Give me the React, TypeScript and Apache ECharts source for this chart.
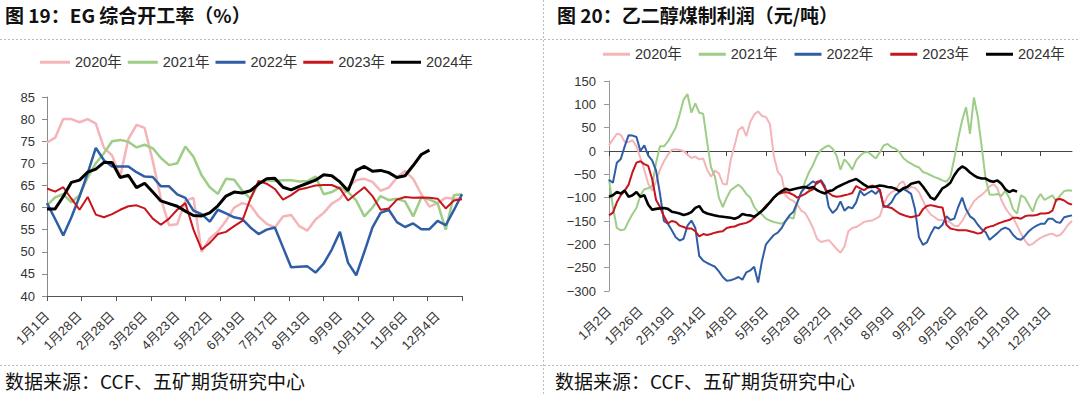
import React, { useEffect, useRef } from 'react';
import * as echarts from 'echarts';

const years = ['2020年', '2021年', '2022年', '2023年', '2024年'];

const leftTickLabels = ['1月1日', '1月28日', '2月28日', '3月26日', '4月23日', '5月22日', '6月19日', '7月17日', '8月13日', '9月9日', '10月11日', '11月6日', '12月4日'];
const rightTickLabels = ['1月2日', '1月26日', '2月19日', '3月14日', '4月8日', '5月5日', '5月29日', '6月22日', '7月16日', '8月9日', '9月2日', '9月26日', '10月26日', '11月19日', '12月13日'];

// 图19 EG综合开工率 (%), weekly
const rate2020 = [74.7, 75.8, 80.0, 80.0, 79.3, 80.0, 79.0, 73.5, 71.8, 67.0, 75.5, 78.7, 78.0, 70.5, 62.0, 56.0, 56.2, 61.5, 62.2, 50.0, 53.0, 54.6, 57.0, 60.0, 61.0, 60.5, 58.0, 56.3, 55.5, 58.0, 58.3, 55.8, 54.8, 57.3, 58.8, 60.9, 62.0, 64.5, 66.2, 66.5, 65.8, 63.8, 64.5, 66.8, 68.3, 66.5, 63.0, 60.2, 61.0, 62.2, 62.0, 62.0];
const rate2021 = [60.5, 62.3, 63.0, 61.2, 62.8, 66.8, 70.0, 72.3, 75.0, 75.3, 74.9, 73.6, 74.2, 73.4, 71.2, 69.6, 70.0, 73.8, 71.5, 67.3, 64.6, 63.1, 66.5, 66.3, 63.8, 62.0, 65.5, 66.2, 66.0, 66.2, 66.2, 65.9, 66.0, 67.0, 63.0, 63.5, 64.6, 63.5, 61.6, 58.0, 60.0, 62.6, 61.7, 62.0, 61.4, 58.0, 62.3, 61.8, 61.0, 55.0, 62.8, 63.0];
const rate2022 = [61.0, 57.4, 53.7, 57.8, 62.5, 67.8, 73.5, 70.7, 69.3, 69.3, 69.3, 68.0, 67.0, 66.9, 64.8, 64.8, 63.0, 62.2, 59.3, 58.5, 56.8, 59.5, 58.7, 57.8, 57.4, 55.5, 54.0, 55.0, 55.5, 51.0, 46.5, 46.6, 46.7, 45.3, 47.3, 50.5, 54.5, 47.5, 44.7, 50.0, 55.5, 58.8, 59.5, 56.7, 55.6, 56.4, 55.1, 55.1, 57.0, 56.0, 59.4, 63.0];
const rate2023 = [64.3, 63.6, 64.6, 62.0, 59.5, 62.4, 58.4, 57.8, 58.5, 59.5, 60.3, 60.5, 59.8, 57.5, 56.1, 57.5, 59.5, 61.0, 55.0, 50.5, 52.0, 54.0, 54.5, 55.8, 57.0, 62.0, 66.0, 65.4, 64.2, 61.8, 62.8, 64.1, 64.5, 65.0, 65.1, 65.1, 64.3, 61.6, 63.1, 64.6, 62.6, 59.5, 59.8, 61.8, 62.4, 62.2, 62.3, 62.2, 62.0, 59.8, 61.6, 61.9];
const rate2024 = [59.7, 59.7, 62.5, 65.7, 66.2, 68.0, 68.7, 70.2, 70.2, 66.8, 67.3, 64.5, 65.5, 63.5, 61.5, 60.9, 60.3, 59.2, 58.2, 58.1, 58.8, 60.4, 62.6, 63.5, 63.3, 63.8, 65.3, 66.5, 66.6, 64.6, 64.0, 64.8, 65.5, 66.2, 67.4, 67.2, 65.8, 63.8, 68.4, 69.3, 68.2, 68.4, 67.9, 66.8, 67.2, 69.5, 72.0, 73.0];

// 图20 乙二醇煤制利润 (元/吨)
const profit2020 = [12, 25, 37, 35, 20, 19, 23, 10, -15, -40, -70, -85, -65, -40, -22, -8, 2, 4, 2, 0, -8, -15, -12, -18, -16, -40, -55, -42, -48, -70, -72, -20, 12, 45, 52, 32, 62, 78, 85, 75, 73, 58, -10, -44, -55, -95, -103, -107, -115, -128, -133, -148, -165, -188, -195, -193, -191, -200, -210, -218, -205, -172, -165, -163, -158, -152, -150, -149, -145, -140, -115, -97, -88, -84, -70, -65, -82, -77, -79, -88, -106, -125, -136, -142, -148, -148, -150, -153, -160, -161, -150, -135, -122, -108, -100, -94, -86, -76, -71, -80, -105, -122, -134, -143, -160, -177, -192, -202, -199, -192, -186, -182, -179, -177, -182, -180, -170, -158, -150];
const profit2021 = [-60, -120, -165, -170, -168, -150, -135, -122, -95, -82, -80, -75, -25, 10, 10, 20, 35, 50, 78, 110, 122, 82, 102, 82, 80, 20, -35, -55, -100, -120, -100, -84, -78, -72, -80, -92, -100, -120, -131, -136, -145, -149, -152, -154, -156, -150, -142, -145, -110, -90, -65, -45, -30, -10, 2, 8, 12, 5, -10, -40, -18, -27, -40, -20, -10, -3, -2, -9, -16, -3, 12, 15, 8, 5, -2, -15, -22, -27, -32, -35, -45, -48, -52, -56, -59, -63, -66, -55, -16, 27, 66, 94, 37, 115, 73, 8, -60, -93, -94, -92, -96, -85, -100, -125, -134, -95, -100, -115, -130, -105, -92, -105, -100, -95, -108, -95, -86, -84, -85];
const profit2022 = [-62, -68, -25, -17, 10, 34, 33, 30, 0, 12, -10, -20, -42, -92, -150, -156, -170, -185, -192, -188, -160, -149, -165, -225, -235, -240, -244, -248, -258, -270, -278, -277, -274, -270, -276, -260, -256, -248, -282, -235, -200, -190, -180, -175, -165, -150, -138, -130, -110, -88, -78, -72, -65, -70, -62, -75, -120, -133, -125, -108, -128, -120, -123, -110, -85, -95, -90, -85, -92, -82, -120, -118, -110, -95, -88, -81, -86, -92, -125, -185, -201, -196, -178, -163, -166, -158, -140, -148, -145, -120, -100, -125, -140, -146, -158, -168, -174, -190, -183, -176, -168, -164, -168, -180, -188, -190, -182, -172, -165, -160, -156, -156, -145, -145, -152, -154, -142, -140, -138];
const profit2023 = [-138, -132, -110, -95, -85, -72, -45, -25, -22, -28, -32, -60, -105, -120, -140, -155, -150, -152, -160, -163, -166, -166, -172, -183, -178, -180, -178, -175, -173, -172, -165, -163, -162, -158, -156, -154, -150, -143, -135, -128, -117, -110, -100, -92, -90, -88, -90, -94, -100, -96, -92, -86, -82, -66, -65, -80, -90, -96, -98, -97, -95, -93, -90, -75, -80, -84, -78, -74, -77, -83, -118, -120, -122, -128, -134, -137, -140, -142, -140, -138, -125, -118, -116, -118, -120, -121, -158, -166, -168, -170, -170, -170, -172, -174, -177, -175, -165, -162, -160, -156, -153, -150, -148, -143, -143, -145, -140, -138, -138, -137, -134, -134, -133, -128, -104, -103, -106, -112, -115];
const profit2024 = [-98, -95, -88, -91, -85, -98, -95, -88, -98, -95, -115, -126, -124, -123, -122, -124, -130, -132, -134, -137, -135, -131, -122, -118, -130, -134, -136, -138, -140, -141, -142, -143, -145, -142, -135, -137, -138, -141, -135, -128, -120, -110, -100, -92, -86, -81, -84, -82, -80, -78, -77, -80, -77, -84, -88, -91, -86, -84, -78, -74, -70, -66, -63, -60, -66, -72, -77, -77, -76, -74, -75, -77, -78, -81, -86, -80, -77, -70, -68, -66, -76, -88, -100, -104, -92, -80, -75, -68, -52, -40, -33, -38, -46, -52, -57, -59, -59, -64, -66, -63, -70, -82, -88, -84, -87];

const leftData = [rate2020, rate2021, rate2022, rate2023, rate2024];
const rightData = [profit2020, profit2021, profit2022, profit2023, profit2024];

const LEFT_LABEL_STEP = 4;
const RIGHT_LABEL_STEP = 8;
const leftCategories = rate2020.map((_, i) => (i % LEFT_LABEL_STEP === 0 ? leftTickLabels[i / LEFT_LABEL_STEP] || '' : ''));
const rightCategories = profit2020.map((_, i) => (i % RIGHT_LABEL_STEP === 0 ? rightTickLabels[i / RIGHT_LABEL_STEP] || '' : ''));

const colors = ['#F4B4B8', '#9DCD86', '#2F5DA6', '#C8141C', '#000000'];
const leftWidths = [2.5, 2.5, 2.5, 2, 3];
const rightWidths = [2, 2, 2, 2, 2.6];

const NUM_FONT = '"Liberation Sans", "Noto Sans CJK SC", sans-serif';
const CJK_FONT = '"Noto Sans CJK SC", sans-serif';

export default function App() {
  const ref = useRef<HTMLDivElement>(null);

  useEffect(() => {
    if (!ref.current) return;
    const chart = echarts.init(ref.current, undefined, { renderer: 'svg' });

    const axisLabelStyle = { fontSize: 13, color: '#333', fontFamily: NUM_FONT };
    const minus = (v: number) => (v < 0 ? '\u2212' + Math.abs(v) : String(v));

    const series: any[] = [];
    leftData.forEach((d, i) => {
      series.push({
        type: 'line', name: years[i], xAxisIndex: 0, yAxisIndex: 0, data: d,
        symbol: 'none', showSymbol: false, z: 2 + i,
        lineStyle: { color: colors[i], width: leftWidths[i] }, itemStyle: { color: colors[i] },
      });
    });
    rightData.forEach((d, i) => {
      series.push({
        type: 'line', name: years[i], xAxisIndex: 2, yAxisIndex: 1, data: d,
        symbol: 'none', showSymbol: false, z: 2 + i,
        lineStyle: { color: colors[i], width: rightWidths[i] }, itemStyle: { color: colors[i] },
      });
    });

    const legendCommon = {
      data: years, icon: 'rect', itemHeight: 3, orient: 'horizontal',
      textStyle: { fontSize: 14.5, color: '#333', fontFamily: NUM_FONT },
    };

    chart.setOption({
      animation: false,
      backgroundColor: '#ffffff',
      grid: [
        { left: 47, top: 97, width: 415, height: 199 },
        { left: 609, top: 81, width: 463, height: 210 },
      ],
      legend: [
        { ...legendCommon, left: 35, top: 50, itemWidth: 30, itemGap: 6 },
        { ...legendCommon, left: 598, top: 42, itemWidth: 27, itemGap: 17 },
      ],
      xAxis: [
        {
          type: 'category', gridIndex: 0, position: 'bottom', data: leftCategories, boundaryGap: false,
          axisLine: { show: false, onZero: false }, axisTick: { show: false },
          axisLabel: { ...axisLabelStyle, interval: LEFT_LABEL_STEP - 1, rotate: 45, margin: 18 },
          splitLine: { show: false },
        },
        {
          type: 'value', gridIndex: 0, position: 'bottom', min: 0, max: 12, interval: 1,
          axisLine: { show: true, onZero: false, lineStyle: { color: '#555', width: 1 } },
          axisTick: { show: true, length: 5, lineStyle: { color: '#555' } },
          axisLabel: { show: false }, splitLine: { show: false },
        },
        {
          type: 'category', gridIndex: 1, position: 'bottom', data: rightCategories, boundaryGap: false,
          axisLine: { show: false, onZero: false }, axisTick: { show: false },
          axisLabel: { ...axisLabelStyle, interval: RIGHT_LABEL_STEP - 1, rotate: 45, margin: 18 },
          splitLine: { show: false },
        },
        {
          type: 'category', gridIndex: 1, position: 'bottom', data: rightCategories, boundaryGap: false,
          axisLine: { show: true, onZero: true, lineStyle: { color: '#444', width: 1 } },
          axisTick: { show: true, interval: 9, length: 5, lineStyle: { color: '#444' } },
          axisLabel: { show: false }, splitLine: { show: false },
        },
      ],
      yAxis: [
        {
          type: 'value', gridIndex: 0, min: 40, max: 85, interval: 5,
          axisLine: { show: true, onZero: false, lineStyle: { color: '#8a8a8a' } },
          axisTick: { show: true, length: 5, lineStyle: { color: '#8a8a8a' } },
          axisLabel: { ...axisLabelStyle, margin: 12 },
          splitLine: { show: false },
        },
        {
          type: 'value', gridIndex: 1, min: -300, max: 150, interval: 50,
          axisLine: { show: true, onZero: false, lineStyle: { color: '#999' } },
          axisTick: { show: true, length: 5, lineStyle: { color: '#999' } },
          axisLabel: { ...axisLabelStyle, margin: 13, formatter: minus },
          splitLine: { show: false },
        },
      ],
      graphic: [
        { type: 'line', silent: true, shape: { x1: 0, y1: 39.5, x2: 1080, y2: 39.5 }, style: { stroke: '#bdbdbd', lineWidth: 1, lineDash: [2, 2] } },
        { type: 'line', silent: true, shape: { x1: 0, y1: 365.5, x2: 1080, y2: 365.5 }, style: { stroke: '#bdbdbd', lineWidth: 1, lineDash: [2, 2] } },
        { type: 'line', silent: true, shape: { x1: 543.5, y1: 0, x2: 543.5, y2: 394 }, style: { stroke: '#bdbdbd', lineWidth: 1, lineDash: [2, 2] } },
        { type: 'text', x: 5, y: 14, style: { text: '图 19：EG 综合开工率（%）', fontSize: 19, fontWeight: 'bold', fontFamily: CJK_FONT, fill: '#111', verticalAlign: 'middle' } },
        { type: 'text', x: 557, y: 14, style: { text: '图 20：乙二醇煤制利润（元/吨）', fontSize: 19, fontWeight: 'bold', fontFamily: CJK_FONT, fill: '#111', verticalAlign: 'middle' } },
        { type: 'text', x: 5, y: 380, style: { text: '数据来源：CCF、五矿期货研究中心', fontSize: 19, fontFamily: CJK_FONT, fill: '#111', verticalAlign: 'middle' } },
        { type: 'text', x: 555, y: 380, style: { text: '数据来源：CCF、五矿期货研究中心', fontSize: 19, fontFamily: CJK_FONT, fill: '#111', verticalAlign: 'middle' } },
      ],
      series,
    });

    return () => chart.dispose();
  }, []);

  return <div ref={ref} style={{ position: 'absolute', left: 0, top: 0, width: 1080, height: 394 }} />;
}
